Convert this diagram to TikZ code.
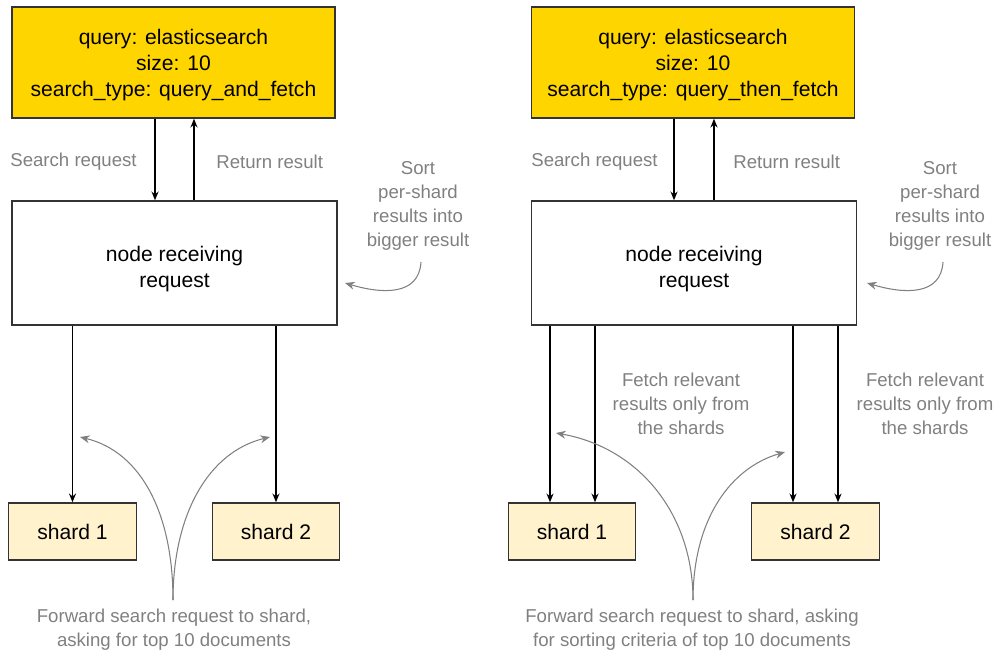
\documentclass[tikz,border=0pt]{standalone}
\usepackage{fontspec}
\setmainfont{Liberation Sans}
\usetikzlibrary{arrows.meta}
\definecolor{queryyellow}{HTML}{FFD500}
\definecolor{shardfill}{HTML}{FFF2CC}
\definecolor{boxline}{HTML}{333333}
\definecolor{notegray}{HTML}{808080}
\begin{document}
\begin{tikzpicture}[x=0.02cm,y=-0.02cm,
  querybox/.style={draw=boxline,fill=queryyellow,line width=0.8pt,inner sep=0pt,
    minimum width=6.46cm,minimum height=2.22cm},
  nodebox/.style={draw=boxline,fill=white,line width=0.8pt,inner sep=0pt,
    minimum width=6.5cm,minimum height=2.48cm},
  boxtext/.style={align=center,inner sep=0pt,font=\fontsize{12}{15}\selectfont},
  shardbox/.style={draw=boxline,fill=shardfill,line width=0.8pt,inner sep=0pt,
    minimum width=2.55cm,minimum height=1.14cm,font=\fontsize{12}{14.8}\selectfont},
  note/.style={text=notegray,align=center,inner sep=0pt,font=\fontsize{10.6}{13.5}\selectfont},
  flow/.style={draw=black,line width=0.75pt,-{Stealth[length=5pt,width=4pt]}},
  hint/.style={draw=notegray,line width=0.6pt,-{Stealth[length=5.5pt,width=4.5pt]}}]
\useasboundingbox (0,0) rectangle (999,653);

\node[querybox,label={[boxtext,yshift=-0.05cm]center:query: elasticsearch\\size: 10\\search\_type: query\_and\_fetch}] (query1) at (173.5,62.5) {};
\node[nodebox,label={[boxtext,yshift=-0.12cm]center:node receiving\\request}] (recv1) at (174.5,263) {};
\node[shardbox] (shardA1) at (72.5,531.5) {shard 1};
\node[shardbox] (shardB1) at (276,531.5) {shard 2};

\node[note,anchor=west] (search1) at (10,162) {Search request};
\node[note,anchor=west] (return1) at (216,162) {Return result};
\node[note] (sort1) at (418,206) {Sort\\per-shard\\results into\\bigger result};
\node[note] (forward1) at (174,630) {Forward search request to shard,\\asking for top 10 documents};

\draw[flow] ([xshift=-0.37cm]query1.south) -- ([xshift=-0.37cm]query1.south |- recv1.north);
\draw[flow] ([xshift=0.41cm]query1.south |- recv1.north) -- ([xshift=0.41cm]query1.south);
\draw[flow] (shardA1.north |- recv1.south) -- (shardA1.north);
\draw[flow] (shardB1.north |- recv1.south) -- (shardB1.north);

\coordinate (sortstart1) at (421,262);
\coordinate (sortend1) at (345,283);
\draw[hint] (sortstart1) .. controls (419,296) and (382,294) .. (sortend1);
\coordinate (fork1) at (173,600);
\coordinate (tipA1) at (80,437);
\coordinate (tipB1) at (270,437);
\draw[hint] (fork1) .. controls (173,515) and (142,452) .. (tipA1);
\draw[hint] (fork1) .. controls (173,515) and (208,452) .. (tipB1);

\node[querybox,label={[boxtext,yshift=-0.05cm]center:query: elasticsearch\\size: 10\\search\_type: query\_then\_fetch}] (query2) at (693,62.5) {};
\node[nodebox,label={[boxtext,yshift=-0.12cm]center:node receiving\\request}] (recv2) at (694,263) {};
\node[shardbox] (shardA2) at (572,531.5) {shard 1};
\node[shardbox] (shardB2) at (815.5,531.5) {shard 2};

\node[note,anchor=west] (search2) at (531,162) {Search request};
\node[note,anchor=west] (return2) at (733,162) {Return result};
\node[note] (sort2) at (940,206) {Sort\\per-shard\\results into\\bigger result};
\node[note] (fetchA2) at (681,404) {Fetch relevant\\results only from\\the shards};
\node[note] (fetchB2) at (925,404) {Fetch relevant\\results only from\\the shards};
\node[note] (forward2) at (692,630) {Forward search request to shard, asking\\for sorting criteria of top 10 documents};

\draw[flow] ([xshift=-0.38cm]query2.south) -- ([xshift=-0.38cm]query2.south |- recv2.north);
\draw[flow] ([xshift=0.42cm]query2.south |- recv2.north) -- ([xshift=0.42cm]query2.south);
\draw[flow] ([xshift=-0.44cm]shardA2.north |- recv2.south) -- ([xshift=-0.44cm]shardA2.north);
\draw[flow] ([xshift=0.46cm]shardA2.north |- recv2.south) -- ([xshift=0.46cm]shardA2.north);
\draw[flow] ([xshift=-0.45cm]shardB2.north |- recv2.south) -- ([xshift=-0.45cm]shardB2.north);
\draw[flow] ([xshift=0.45cm]shardB2.north |- recv2.south) -- ([xshift=0.45cm]shardB2.north);

\coordinate (sortstart2) at (943,262);
\coordinate (sortend2) at (867,283);
\draw[hint] (sortstart2) .. controls (941,296) and (904,294) .. (sortend2);
\coordinate (fork2) at (693,600);
\coordinate (tipA2) at (556,433);
\coordinate (tipB2) at (785,452);
\draw[hint] (fork2) .. controls (693,515) and (640,448) .. (tipA2);
\draw[hint] (fork2) .. controls (693,520) and (730,468) .. (tipB2);
\end{tikzpicture}
\end{document}
